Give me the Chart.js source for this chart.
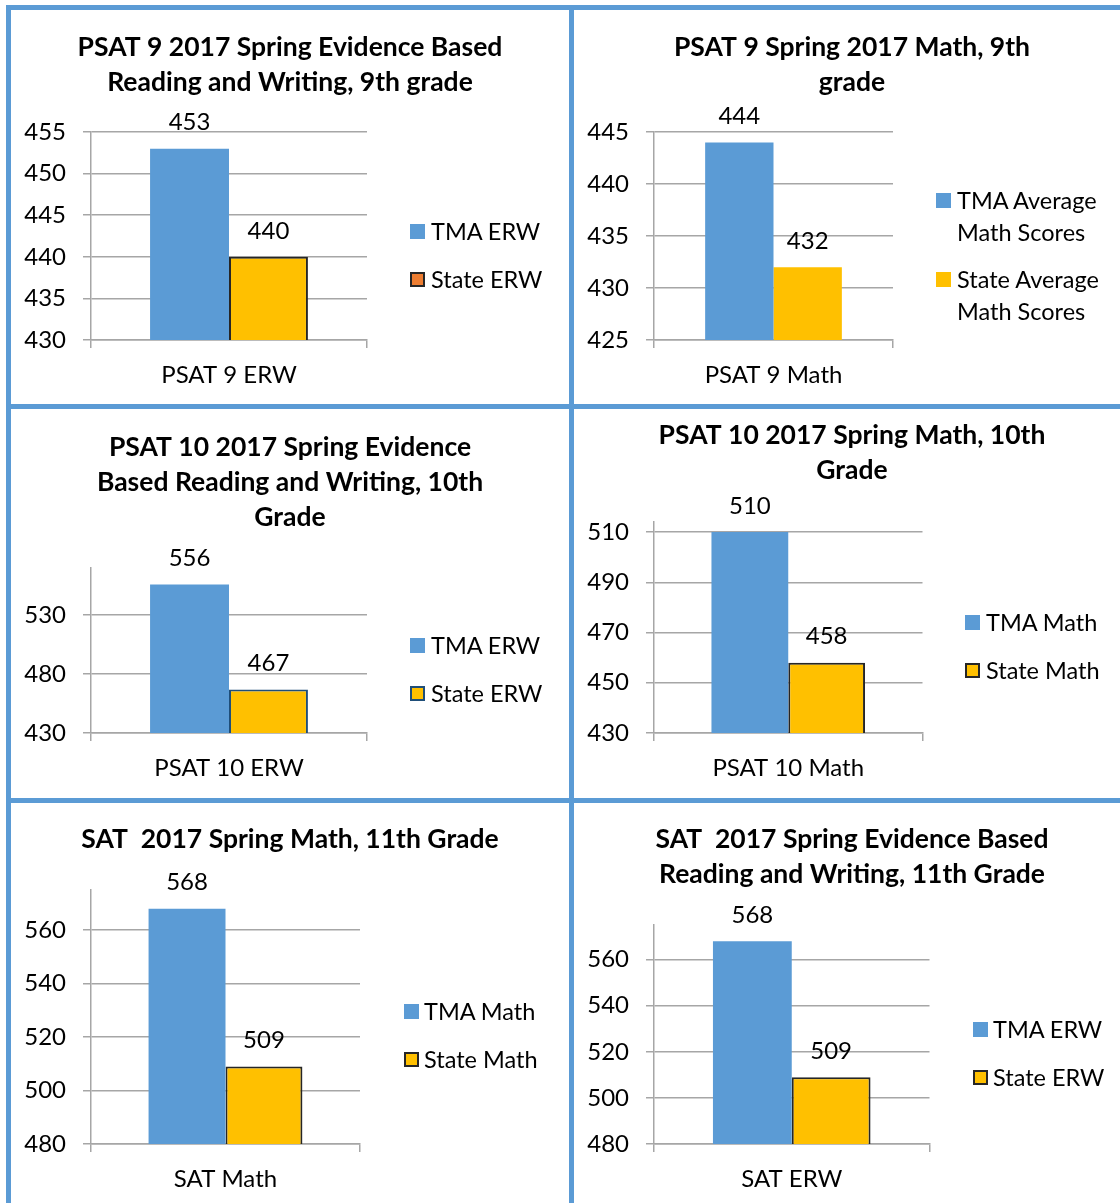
<!DOCTYPE html>
<html>
<head>
<meta charset="utf-8">
<title>PSAT / SAT 2017 - TMA vs State</title>
<script src="https://cdn.jsdelivr.net/npm/chart.js@4.4.1/dist/chart.umd.min.js"></script>
<style>
    body { margin: 0; width: 1120px; height: 1203px; overflow: hidden; background: #fff; position: relative; font-family: Lato, sans-serif; }
    .rule { position: absolute; background: #5b9bd5; }
    .cell { position: absolute; }
    .cell canvas { display: block; }
    .swatch { position: absolute; width: 15px; height: 15px; box-sizing: border-box; }
    .legend-text { position: absolute; font-size: 23.5px; color: #000; white-space: nowrap; }
</style>
</head>
<body>
<script>
// ==================== DATA ====================
const chartTitles = [
    ['PSAT 9 2017 Spring Evidence Based', 'Reading and Writing, 9th grade'],
    ['PSAT 9 Spring 2017 Math, 9th', 'grade'],
    ['PSAT 10 2017 Spring Evidence', 'Based Reading and Writing, 10th', 'Grade'],
    ['PSAT 10 2017 Spring Math, 10th', 'Grade'],
    ['SAT  2017 Spring Math, 11th Grade'],
    ['SAT  2017 Spring Evidence Based', 'Reading and Writing, 11th Grade']
];
const categories  = ['PSAT 9 ERW', 'PSAT 9 Math', 'PSAT 10 ERW', 'PSAT 10 Math', 'SAT Math', 'SAT ERW'];
const tmaLabels   = ['TMA ERW', ['TMA Average', 'Math Scores'], 'TMA ERW', 'TMA Math', 'TMA Math', 'TMA ERW'];
const stateLabels = ['State ERW', ['State Average', 'Math Scores'], 'State ERW', 'State Math', 'State Math', 'State ERW'];
const tmaScores   = [453, 444, 556, 510, 568, 568];
const stateScores = [440, 432, 467, 458, 509, 509];
const yMin   = [430, 425, 430, 430, 480, 480];
const yMax   = [455, 445, 570, 514, 575, 575];
const yTicks = [
    [430, 435, 440, 445, 450, 455],
    [425, 430, 435, 440, 445],
    [430, 480, 530],
    [430, 450, 470, 490, 510],
    [480, 500, 520, 540, 560],
    [480, 500, 520, 540, 560]
];

// ==================== STYLE / LAYOUT ====================
const BLUE = '#5b9bd5';
const GOLD = '#ffc000';
const GRID = '#a6a6a6';
const stateBorder = ['#262626', null, '#1f4e79', '#262626', '#262626', '#262626'];
const stateSwatch = ['#ed7d31', GOLD, GOLD, GOLD, GOLD, GOLD];

const panels = [
    { x: 11,  y: 10,  w: 558, h: 394, tTop: 19.5, tBottom: 32.5, padR: 202,   padB: 14, boxX: 410,   textX: 431, items: [231, 279] },
    { x: 574, y: 10,  w: 556, h: 394, tTop: 19.5, tBottom: 32.5, padR: 237,   padB: 14, boxX: 936,   textX: 957, items: [200, 279] },
    { x: 11,  y: 409, w: 558, h: 389, tTop: 20.5, tBottom: 33.5, padR: 202,   padB: 15, boxX: 410,   textX: 431, items: [645, 693] },
    { x: 574, y: 409, w: 556, h: 389, tTop: 8.5,  tBottom: 34.5, padR: 207.5, padB: 15, boxX: 965,   textX: 986, items: [622, 670] },
    { x: 11,  y: 803, w: 558, h: 400, tTop: 18.5, tBottom: 33.5, padR: 209,   padB: 9,  boxX: 404,   textX: 424, items: [1011, 1059] },
    { x: 574, y: 803, w: 556, h: 400, tTop: 18.5, tBottom: 33.5, padR: 200.5, padB: 9,  boxX: 972.5, textX: 993, items: [1029, 1077] }
];

// ==================== PLUGIN: nhãn giá trị trên cột ====================
const valueLabels = {
    id: 'valueLabels',
    afterDatasetsDraw(chart) {
        const ctx = chart.ctx;
        ctx.save();
        ctx.font = '24px Lato';
        ctx.fillStyle = '#000';
        ctx.textAlign = 'center';
        ctx.textBaseline = 'middle';
        chart.data.datasets.forEach((ds, i) => {
            chart.getDatasetMeta(i).data.forEach((bar, j) => {
                ctx.fillText(ds.data[j], bar.x, bar.y - 26);
            });
        });
        ctx.restore();
    }
};

// ==================== KHUNG BẢNG ====================
function drawRules() {
    const rules = [
        [6, 5, 1114, 5], [6, 404, 1114, 5], [6, 798, 1114, 5],
        [6, 5, 5, 1198], [569, 5, 5, 1198]
    ];
    rules.forEach(([l, t, w, h]) => {
        const d = document.createElement('div');
        d.className = 'rule';
        d.style.cssText = `left:${l}px;top:${t}px;width:${w}px;height:${h}px`;
        document.body.appendChild(d);
    });
}

// ==================== CHÚ THÍCH ====================
function addLegend(i) {
    const p = panels[i];
    const rows = [
        { text: tmaLabels[i], fill: BLUE, border: null },
        { text: stateLabels[i], fill: stateSwatch[i], border: stateBorder[i] }
    ];
    rows.forEach((r, k) => {
        const cy = p.items[k];
        const box = document.createElement('div');
        box.className = 'swatch';
        box.style.left = p.boxX + 'px';
        box.style.top = (cy - 7.5) + 'px';
        box.style.background = r.fill;
        if (r.border) box.style.border = `2px solid ${r.border}`;
        document.body.appendChild(box);

        const lh = 32;
        const txt = document.createElement('div');
        txt.className = 'legend-text';
        txt.style.left = p.textX + 'px';
        txt.style.top = (cy - lh / 2) + 'px';
        txt.style.lineHeight = lh + 'px';
        txt.innerHTML = Array.isArray(r.text) ? r.text.join('<br>') : r.text;
        document.body.appendChild(txt);
    });
}

// ==================== BIỂU ĐỒ ====================
function buildChart(i) {
    const p = panels[i];
    const wrap = document.createElement('div');
    wrap.className = 'cell';
    wrap.style.cssText = `left:${p.x}px;top:${p.y}px;width:${p.w}px;height:${p.h}px`;
    const canvas = document.createElement('canvas');
    canvas.width = p.w;
    canvas.height = p.h;
    wrap.appendChild(canvas);
    document.body.appendChild(wrap);

    const hasBorder = !!stateBorder[i];
    new Chart(canvas, {
        type: 'bar',
        data: {
            labels: [categories[i]],
            datasets: [
                { label: tmaLabels[i], data: [tmaScores[i]], backgroundColor: BLUE, borderWidth: 0,
                  categoryPercentage: 0.572, barPercentage: 1 },
                { label: stateLabels[i], data: [stateScores[i]], backgroundColor: GOLD,
                  borderColor: stateBorder[i] || GOLD, borderWidth: hasBorder ? 2 : 0, borderSkipped: false,
                  categoryPercentage: 0.572, barPercentage: 1 }
            ]
        },
        options: {
            responsive: false,
            animation: false,
            layout: { padding: { left: 0, top: 0, right: 0, bottom: p.padB } },
            plugins: {
                legend: { display: false },
                tooltip: { enabled: false },
                title: {
                    display: true,
                    text: chartTitles[i],
                    color: '#000',
                    font: { family: 'Lato', size: 26.5, weight: 'bold', lineHeight: '35px' },
                    padding: { top: p.tTop, bottom: p.tBottom }
                }
            },
            scales: {
                x: {
                    grid: { offset: true, drawOnChartArea: false, tickLength: 8, color: GRID, lineWidth: 1.5 },
                    border: { color: GRID, width: 1.5 },
                    ticks: { color: '#000', font: { family: 'Lato', size: 24 }, padding: 13 },
                    afterFit: s => { s.height = 50; }
                },
                y: {
                    min: yMin[i],
                    max: yMax[i],
                    grid: { color: GRID, lineWidth: 1.5, tickLength: 8 },
                    border: { color: GRID, width: 1.5 },
                    ticks: { color: '#000', font: { family: 'Lato', size: 24 }, padding: 17 },
                    afterBuildTicks: s => { s.ticks = yTicks[i].map(v => ({ value: v })); },
                    afterFit: s => { s.width = 80; }
                },
                // empty right axis: keeps room for the html legend, title stays full width
                legendSpace: {
                    type: 'linear',
                    position: 'right',
                    grid: { display: false },
                    border: { display: false },
                    ticks: { display: false },
                    afterFit: s => { s.width = p.padR; }
                }
            }
        },
        plugins: [valueLabels]
    });
}

drawRules();
panels.forEach((p, i) => {
    buildChart(i);
    addLegend(i);
});
</script>
</body>
</html>
